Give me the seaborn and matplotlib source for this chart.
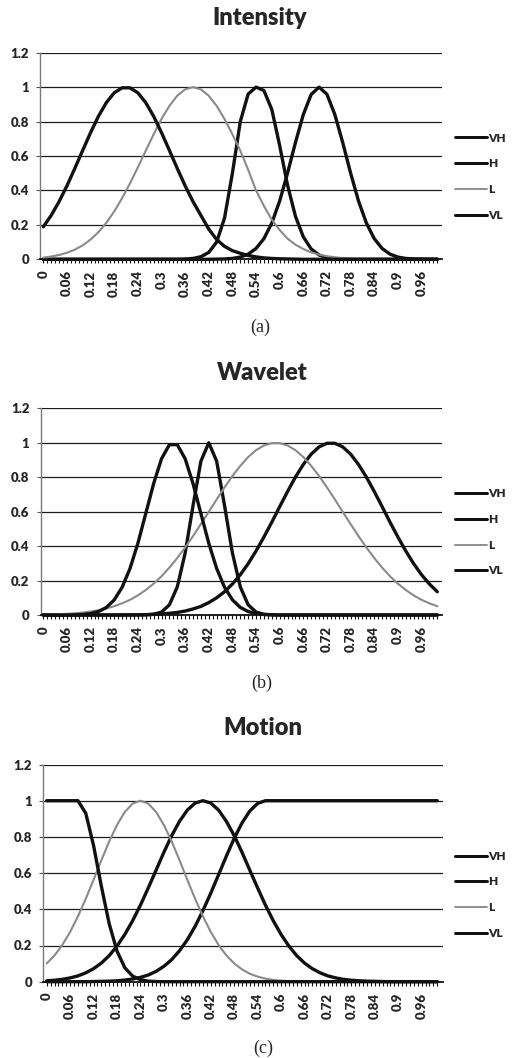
import matplotlib
matplotlib.use("Agg")
import matplotlib.pyplot as plt
import seaborn as sns
from matplotlib.lines import Line2D

# ---------------- data ----------------
# category axis: 0, 0.02, ..., 1.00
x_vals = [round(0.02 * i, 2) for i in range(51)]

x_tick_labels = ["0", "0.06", "0.12", "0.18", "0.24", "0.3", "0.36", "0.42", "0.48",
                 "0.54", "0.6", "0.66", "0.72", "0.78", "0.84", "0.9", "0.96"]
y_tick_labels = ["0", "0.2", "0.4", "0.6", "0.8", "1", "1.2"]
series_names = ["VH", "H", "L", "VL"]

# (a) Intensity
int_VL = [0.189, 0.255, 0.335, 0.427, 0.528, 0.633, 0.736, 0.831, 0.910, 0.967,
          0.996, 0.996, 0.967, 0.910, 0.831, 0.736, 0.633, 0.528, 0.427, 0.335,
          0.255, 0.175, 0.115, 0.075, 0.050, 0.035, 0.022, 0.014, 0.008, 0.005,
          0.003, 0.002, 0.001, 0, 0, 0, 0, 0, 0, 0,
          0, 0, 0, 0, 0, 0, 0, 0, 0, 0,
          0]
int_L = [0.010, 0.016, 0.025, 0.038, 0.056, 0.081, 0.115, 0.158, 0.212, 0.278,
         0.355, 0.441, 0.534, 0.631, 0.726, 0.815, 0.891, 0.950, 0.987, 1.000,
         0.987, 0.950, 0.891, 0.815, 0.726, 0.631, 0.520, 0.400, 0.310, 0.230,
         0.170, 0.120, 0.085, 0.060, 0.040, 0.027, 0.018, 0.012, 0.007, 0.004,
         0.002, 0.001, 0, 0, 0, 0, 0, 0, 0, 0,
         0]
int_H = [0, 0, 0, 0, 0, 0, 0, 0, 0, 0,
         0, 0, 0, 0, 0, 0, 0, 0, 0.001, 0.005,
         0.015, 0.040, 0.100, 0.240, 0.500, 0.800, 0.960, 1.000, 0.980, 0.870,
         0.660, 0.430, 0.250, 0.130, 0.060, 0.025, 0.010, 0.004, 0.001, 0,
         0, 0, 0, 0, 0, 0, 0, 0, 0, 0,
         0]
int_VH = [0, 0, 0, 0, 0, 0, 0, 0, 0, 0,
          0, 0, 0, 0, 0, 0, 0, 0, 0, 0,
          0, 0, 0.001, 0.002, 0.005, 0.013, 0.030, 0.063, 0.120, 0.211,
          0.339, 0.501, 0.678, 0.841, 0.958, 1.000, 0.958, 0.841, 0.678, 0.501,
          0.339, 0.211, 0.120, 0.063, 0.030, 0.013, 0.005, 0.002, 0.001, 0,
          0]

# (b) Wavelet
wav_VL = [0, 0, 0, 0, 0.001, 0.003, 0.008, 0.020, 0.044, 0.088,
          0.161, 0.270, 0.416, 0.589, 0.763, 0.907, 0.989, 0.989, 0.907, 0.763,
          0.589, 0.416, 0.270, 0.161, 0.088, 0.044, 0.020, 0.008, 0.003, 0.001,
          0, 0, 0, 0, 0, 0, 0, 0, 0, 0,
          0, 0, 0, 0, 0, 0, 0, 0, 0, 0,
          0]
wav_H = [0, 0, 0, 0, 0, 0, 0, 0, 0, 0,
         0, 0, 0, 0.001, 0.004, 0.017, 0.059, 0.163, 0.360, 0.635,
         0.893, 1.000, 0.893, 0.635, 0.360, 0.163, 0.059, 0.017, 0.004, 0.001,
         0, 0, 0, 0, 0, 0, 0, 0, 0, 0,
         0, 0, 0, 0, 0, 0, 0, 0, 0, 0,
         0]
wav_L = [0.002, 0.003, 0.005, 0.007, 0.010, 0.014, 0.020, 0.028, 0.038, 0.051,
         0.068, 0.088, 0.114, 0.145, 0.182, 0.225, 0.275, 0.331, 0.392, 0.458,
         0.528, 0.599, 0.671, 0.741, 0.807, 0.866, 0.917, 0.957, 0.984, 0.998,
         0.998, 0.984, 0.957, 0.917, 0.866, 0.807, 0.741, 0.671, 0.599, 0.528,
         0.458, 0.392, 0.331, 0.275, 0.225, 0.182, 0.145, 0.114, 0.088, 0.068,
         0.051]
wav_VH = [0, 0, 0, 0, 0, 0, 0, 0, 0, 0,
          0, 0.001, 0.001, 0.002, 0.004, 0.006, 0.010, 0.015, 0.023, 0.035,
          0.050, 0.072, 0.100, 0.135, 0.180, 0.234, 0.298, 0.372, 0.453, 0.539,
          0.629, 0.717, 0.801, 0.874, 0.934, 0.976, 0.997, 0.997, 0.976, 0.934,
          0.874, 0.801, 0.717, 0.629, 0.539, 0.453, 0.372, 0.298, 0.234, 0.180,
          0.135]

# (c) Motion
mot_VL = [1, 1, 1, 1, 1, 0.931, 0.752, 0.527, 0.320, 0.169,
          0.077, 0.031, 0.011, 0.003, 0.001, 0, 0, 0, 0, 0,
          0, 0, 0, 0, 0, 0, 0, 0, 0, 0,
          0, 0, 0, 0, 0, 0, 0, 0, 0, 0,
          0, 0, 0, 0, 0, 0, 0, 0, 0, 0,
          0]
mot_L = [0.101, 0.145, 0.203, 0.275, 0.361, 0.458, 0.563, 0.671, 0.775, 0.866,
         0.938, 0.984, 1.000, 0.984, 0.938, 0.866, 0.775, 0.671, 0.563, 0.458,
         0.361, 0.275, 0.203, 0.145, 0.101, 0.068, 0.044, 0.028, 0.017, 0.010,
         0.006, 0.003, 0.002, 0.001, 0, 0, 0, 0, 0, 0,
         0, 0, 0, 0, 0, 0, 0, 0, 0, 0,
         0]
mot_H = [0.005, 0.008, 0.013, 0.021, 0.032, 0.049, 0.072, 0.103, 0.144, 0.197,
         0.261, 0.337, 0.423, 0.518, 0.616, 0.715, 0.807, 0.886, 0.948, 0.987,
         1.000, 0.987, 0.948, 0.886, 0.807, 0.715, 0.616, 0.518, 0.423, 0.337,
         0.261, 0.197, 0.144, 0.103, 0.072, 0.049, 0.032, 0.021, 0.013, 0.008,
         0.005, 0.003, 0.002, 0.001, 0, 0, 0, 0, 0, 0,
         0]
mot_VH = [0, 0, 0, 0, 0, 0, 0.001, 0.002, 0.003, 0.005,
          0.009, 0.015, 0.024, 0.037, 0.057, 0.085, 0.122, 0.171, 0.232, 0.306,
          0.393, 0.489, 0.591, 0.694, 0.792, 0.877, 0.943, 0.985, 1.000, 1.000,
          1, 1, 1, 1, 1, 1, 1, 1, 1, 1,
          1, 1, 1, 1, 1, 1, 1, 1, 1, 1,
          1]

# ---------------- style ----------------
sns.set_style("white")
plt.rcParams["font.family"] = ["Lato", "DejaVu Sans"]

W, H = 512, 1058
fig = plt.figure(figsize=(W / 100, H / 100), dpi=100)

line_style = {
    "VH": dict(color="#111111", lw=2.4),
    "H": dict(color="#111111", lw=2.4),
    "L": dict(color="#8a8a8a", lw=1.5),
    "VL": dict(color="#111111", lw=2.4),
}


def px_rect(left, right, top, bottom):
    return [left / W, 1 - bottom / H, (right - left) / W, (bottom - top) / H]


def draw_panel(rect, xlim, title, title_xy, caption, caption_xy, data):
    ax = fig.add_axes(rect)
    for name in series_names:
        st = line_style[name]
        sns.lineplot(x=x_vals, y=data[name], ax=ax, color=st["color"],
                     linewidth=st["lw"], legend=False, clip_on=False, zorder=3)
    ax.set_xlim(*xlim)
    ax.set_ylim(0, 1.2)
    ax.set_yticks([float(v) for v in y_tick_labels])
    ax.set_yticklabels(y_tick_labels)
    ax.set_xticks([float(v) for v in x_tick_labels])
    ax.set_xticklabels(x_tick_labels, rotation=90)
    ax.set_xticks([round(0.01 * k, 2) for k in range(101)], minor=True)
    ax.yaxis.grid(True, color="#1c1c1c", linewidth=0.9)
    ax.xaxis.grid(False)
    ax.set_axisbelow(True)
    for s in ["top", "right"]:
        ax.spines[s].set_visible(False)
    ax.spines["left"].set_color("#7a7a7a")
    ax.spines["left"].set_linewidth(1.0)
    ax.spines["bottom"].set_color("#111111")
    ax.spines["bottom"].set_linewidth(1.3)
    ax.tick_params(axis="x", which="both", length=3, width=0.8, color="#111111",
                   direction="out", bottom=True, pad=5)
    ax.tick_params(axis="y", which="major", length=3, width=0.8, color="#555555",
                   direction="out", left=True, pad=5)
    for lbl in ax.get_xticklabels() + ax.get_yticklabels():
        lbl.set_fontsize(9.5)
        lbl.set_fontweight("heavy")
    ax.set_xlabel("")
    ax.set_ylabel("")

    handles = [Line2D([0], [0], color=line_style[n]["color"],
                      lw=line_style[n]["lw"] * 0.9) for n in series_names]
    ax.legend(handles, series_names, loc="center left",
              bbox_to_anchor=(1.02, 0.40), frameon=False,
              handlelength=2.7, handletextpad=0.1, labelspacing=1.25,
              borderaxespad=0, prop={"size": 8.5, "weight": "heavy"})

    fig.text(title_xy[0] / W, 1 - title_xy[1] / H, title, ha="center", va="center",
             fontsize=17, fontweight="heavy")
    fig.text(caption_xy[0] / W, 1 - caption_xy[1] / H, caption, ha="center",
             va="center", fontsize=13, family=["Liberation Serif", "DejaVu Serif"])
    return ax


draw_panel(px_rect(40, 442, 52.7, 259.3), (-0.0084, 1.012), "Intensity", (260, 18),
           "(a)", (260, 327),
           {"VH": int_VH, "H": int_H, "L": int_L, "VL": int_VL})
draw_panel(px_rect(40.5, 442, 408.3, 615), (-0.0072, 1.012), "Wavelet", (262, 373),
           "(b)", (262, 683),
           {"VH": wav_VH, "H": wav_H, "L": wav_L, "VL": wav_VL})
draw_panel(px_rect(43.3, 442.7, 764.5, 981.7), (-0.0087, 1.0138), "Motion", (263, 728),
           "(c)", (263, 1048),
           {"VH": mot_VH, "H": mot_H, "L": mot_L, "VL": mot_VL})

fig.savefig("out.png", dpi=100)
